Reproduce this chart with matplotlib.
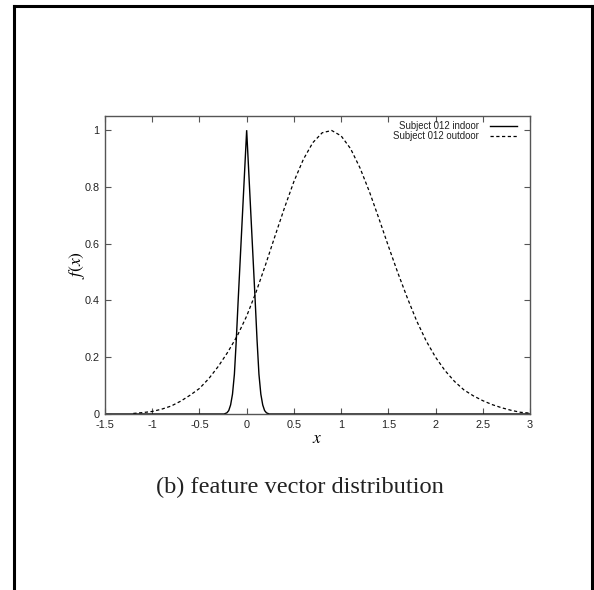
import matplotlib
matplotlib.use("Agg")
import matplotlib.pyplot as plt
from matplotlib.lines import Line2D

plt.rcParams['mathtext.fontset'] = 'stix'

# ---- data ----
indoor_x = [-1.5, -0.24, -0.21, -0.19, -0.17, -0.15, -0.13, -0.11, -0.09, -0.06, -0.03,
            0.0, 0.03, 0.06, 0.09, 0.11, 0.13, 0.15, 0.17, 0.19, 0.21, 0.24, 3.0]
indoor_y = [0.0, 0.0, 0.004, 0.012, 0.032, 0.07, 0.14, 0.26, 0.40, 0.60, 0.80,
            1.0, 0.80, 0.60, 0.40, 0.26, 0.14, 0.07, 0.032, 0.012, 0.004, 0.0, 0.0]

outdoor_x = [-1.2, -1.1, -1.0, -0.9, -0.8, -0.7, -0.6, -0.5, -0.4, -0.3, -0.2, -0.1,
             0.0, 0.1, 0.2, 0.3, 0.4, 0.5, 0.6, 0.7, 0.8, 0.9, 1.0, 1.1, 1.2, 1.3,
             1.4, 1.5, 1.6, 1.7, 1.8, 1.9, 2.0, 2.1, 2.2, 2.3, 2.4, 2.5, 2.6, 2.7,
             2.8, 2.9, 3.0]
outdoor_y = [0.002, 0.005, 0.009, 0.017, 0.028, 0.045, 0.066, 0.090, 0.125, 0.168, 0.218, 0.275,
             0.345, 0.430, 0.526, 0.627, 0.726, 0.819, 0.897, 0.956, 0.991, 0.999, 0.980,
             0.935, 0.867, 0.783, 0.689, 0.592, 0.498, 0.410, 0.328, 0.258, 0.200, 0.153,
             0.115, 0.085, 0.064, 0.047, 0.033, 0.022, 0.013, 0.006, 0.003]

series_labels = ["Subject 012 indoor", "Subject 012 outdoor"]
x_ticks = [-1.5, -1, -0.5, 0, 0.5, 1, 1.5, 2, 2.5, 3]
x_tick_labels = ["-1.5", "-1", "-0.5", "0", "0.5", "1", "1.5", "2", "2.5", "3"]
y_ticks = [0, 0.2, 0.4, 0.6, 0.8, 1]
y_tick_labels = ["0", "0.2", "0.4", "0.6", "0.8", "1"]
caption = "(b) feature vector distribution"

# ---- figure ----
W, H = 594, 590
fig = plt.figure(figsize=(W / 100, H / 100), dpi=100)
fig.patch.set_facecolor('white')

ax = fig.add_axes([105 / W, 1 - 414 / H, 425 / W, 298 / H])
ax.plot(indoor_x, indoor_y, color='black', lw=1.0, label=series_labels[0], solid_joinstyle='miter')
ax.plot(outdoor_x, outdoor_y, color='black', lw=0.9, dashes=(2.6, 2.0), label=series_labels[1])

ax.set_xlim(-1.5, 3)
ax.set_ylim(0, 1.05)
ax.set_xticks(x_ticks)
ax.set_xticklabels(x_tick_labels)
ax.set_yticks(y_ticks)
ax.set_yticklabels(y_tick_labels)

spine_col = '#555555'
for s in ax.spines.values():
    s.set_color(spine_col)
    s.set_linewidth(1.0)
ax.tick_params(direction='in', length=4, width=0.8, color=spine_col,
               top=True, right=True, labelsize=7.8, labelcolor='#222222')
ax.tick_params(axis='x', pad=4)
ax.tick_params(axis='y', pad=4)
for lab in ax.get_xticklabels() + ax.get_yticklabels():
    lab.set_family('Liberation Sans')

ax.text(-0.066, 0.5, r'$f(x)$', transform=ax.transAxes, rotation=90,
        ha='center', va='center', fontsize=12.5)
ax.text(0.5, -0.08, r'$x$', transform=ax.transAxes, ha='center', va='center', fontsize=12.5)

leg = ax.legend(loc='upper right', bbox_to_anchor=(0.970, 0.982), frameon=False,
                markerfirst=False, handlelength=2.8, handletextpad=1.2,
                labelspacing=0.0, borderpad=0.0, borderaxespad=0.0,
                prop={'family': 'Liberation Sans', 'size': 6.9})
for t in leg.get_texts():
    t.set_color('#222222')

fig.text(300 / W, 1 - 487 / H, caption, ha='center', va='center',
         family='Liberation Serif', fontsize=17.6, color='#222222')

# page frame (left, top, right)
fcol = 'black'
fig.add_artist(Line2D([14 / W, 14 / W], [0, 1 - 6 / H], transform=fig.transFigure,
                      color=fcol, lw=2.2))
fig.add_artist(Line2D([14 / W, 592 / W], [1 - 6 / H, 1 - 6 / H], transform=fig.transFigure,
                      color=fcol, lw=2.2))
fig.add_artist(Line2D([592 / W, 592 / W], [0, 1 - 6 / H], transform=fig.transFigure,
                      color=fcol, lw=2.2))

fig.savefig('out.png', dpi=100, facecolor='white')
